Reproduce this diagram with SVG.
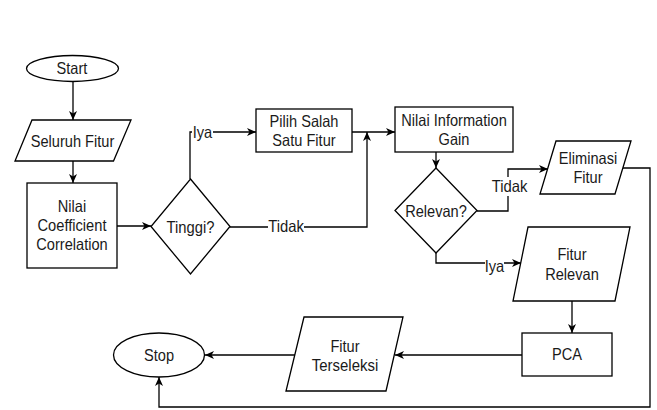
<svg xmlns="http://www.w3.org/2000/svg" width="657" height="410" viewBox="0 0 657 410">
<style>
.s{fill:#fff;stroke:#000;stroke-width:1.3}
.t{font-family:"Liberation Sans",Arial,sans-serif;font-size:16.5px;fill:#1a1a1a;text-anchor:middle}
.c{fill:none;stroke:#000;stroke-width:1.3}
.lb{fill:#fff}
</style>
<defs>
<marker id="a" markerUnits="userSpaceOnUse" markerWidth="10" markerHeight="10" refX="9" refY="4.5" orient="auto">
<path d="M0,0.5 L9,4.5 L0,8.5 L2.5,4.5 z" fill="#000"/>
</marker>
</defs>
<rect width="657" height="410" fill="#fff"/>
<g id="connectors">
<path class="c" d="M73,81 V120" marker-end="url(#a)"/>
<path class="c" d="M73,161 V183" marker-end="url(#a)"/>
<path class="c" d="M117,226 H151" marker-end="url(#a)"/>
<path class="c" d="M190,179 V132 H256" marker-end="url(#a)"/>
<path class="c" d="M230,227 H367 V132" marker-end="url(#a)"/>
<path class="c" d="M352,132 H395" marker-end="url(#a)"/>
<path class="c" d="M436,152 V168" marker-end="url(#a)"/>
<path class="c" d="M477,211 H508 V169 H548" marker-end="url(#a)"/>
<path class="c" d="M436,253 V263 H521" marker-end="url(#a)"/>
<path class="c" d="M623,168 H650 V407 H159 V377" marker-end="url(#a)"/>
<path class="c" d="M572,301 V333" marker-end="url(#a)"/>
<path class="c" d="M522,355 H395" marker-end="url(#a)"/>
<path class="c" d="M295,355 H205" marker-end="url(#a)"/>
<rect class="lb" x="192" y="124" width="21" height="17"/>
<text class="t" x="202.5" y="138" textLength="19.5" lengthAdjust="spacingAndGlyphs">Iya</text>
<rect class="lb" x="268" y="218" width="36" height="17"/>
<text class="t" x="286" y="231.5" textLength="35.7" lengthAdjust="spacingAndGlyphs">Tidak</text>
<rect class="lb" x="491" y="177" width="37" height="19"/>
<text class="t" x="509.5" y="191.5" textLength="35.7" lengthAdjust="spacingAndGlyphs">Tidak</text>
<rect class="lb" x="485" y="258" width="19" height="17"/>
<text class="t" x="494.5" y="271.5" textLength="19.5" lengthAdjust="spacingAndGlyphs">Iya</text>
</g>
<g id="start">
<ellipse class="s" cx="72.5" cy="68.5" rx="46" ry="13"/>
<text class="t" x="72" y="74" textLength="30.8" lengthAdjust="spacingAndGlyphs">Start</text>
</g>
<g id="seluruh-fitur">
<polygon class="s" points="32,120 131,120 113.5,161 15,161"/>
<text class="t" x="72.5" y="146.5" textLength="83.6" lengthAdjust="spacingAndGlyphs">Seluruh Fitur</text>
</g>
<g id="nilai-cc">
<rect class="s" x="27" y="183" width="90" height="85"/>
<text class="t" x="72" y="212" textLength="28.4" lengthAdjust="spacingAndGlyphs">Nilai</text>
<text class="t" x="72" y="231.2" textLength="69" lengthAdjust="spacingAndGlyphs">Coefficient</text>
<text class="t" x="72" y="250.4" textLength="71.4" lengthAdjust="spacingAndGlyphs">Correlation</text>
</g>
<g id="tinggi">
<polygon class="s" points="190.5,179 230,226.5 190.5,274 151,226.5"/>
<text class="t" x="190.5" y="232.5" textLength="47.9" lengthAdjust="spacingAndGlyphs">Tinggi?</text>
</g>
<g id="pilih">
<rect class="s" x="256" y="109" width="96" height="43"/>
<text class="t" x="304" y="126.5" textLength="69" lengthAdjust="spacingAndGlyphs">Pilih Salah</text>
<text class="t" x="304" y="146" textLength="63.3" lengthAdjust="spacingAndGlyphs">Satu Fitur</text>
</g>
<g id="info-gain">
<rect class="s" x="395" y="107" width="118" height="45"/>
<text class="t" x="454" y="125.5" textLength="105.5" lengthAdjust="spacingAndGlyphs">Nilai Information</text>
<text class="t" x="454" y="145" textLength="30.8" lengthAdjust="spacingAndGlyphs">Gain</text>
</g>
<g id="relevan">
<polygon class="s" points="436,168 477,210.5 436,253 395,210.5"/>
<text class="t" x="436" y="216.5" textLength="61.7" lengthAdjust="spacingAndGlyphs">Relevan?</text>
</g>
<g id="eliminasi">
<polygon class="s" points="556,141 631,141 615,194 540,194"/>
<text class="t" x="588" y="163.5" textLength="58.4" lengthAdjust="spacingAndGlyphs">Eliminasi</text>
<text class="t" x="588" y="183" textLength="29.2" lengthAdjust="spacingAndGlyphs">Fitur</text>
</g>
<g id="fitur-relevan">
<polygon class="s" points="528,227 630,227 615,301 513,301"/>
<text class="t" x="572" y="260" textLength="29.2" lengthAdjust="spacingAndGlyphs">Fitur</text>
<text class="t" x="572" y="280" textLength="53.6" lengthAdjust="spacingAndGlyphs">Relevan</text>
</g>
<g id="pca">
<rect class="s" x="522" y="333" width="90" height="43"/>
<text class="t" x="567" y="360" textLength="30" lengthAdjust="spacingAndGlyphs">PCA</text>
</g>
<g id="fitur-terseleksi">
<polygon class="s" points="304,317 403,317 386,391 286,391"/>
<text class="t" x="345" y="351.5" textLength="29.2" lengthAdjust="spacingAndGlyphs">Fitur</text>
<text class="t" x="345" y="371" textLength="66.5" lengthAdjust="spacingAndGlyphs">Terseleksi</text>
</g>
<g id="stop">
<ellipse class="s" cx="159" cy="355" rx="45.5" ry="22"/>
<text class="t" x="159" y="360.5" textLength="30" lengthAdjust="spacingAndGlyphs">Stop</text>
</g>
</svg>
